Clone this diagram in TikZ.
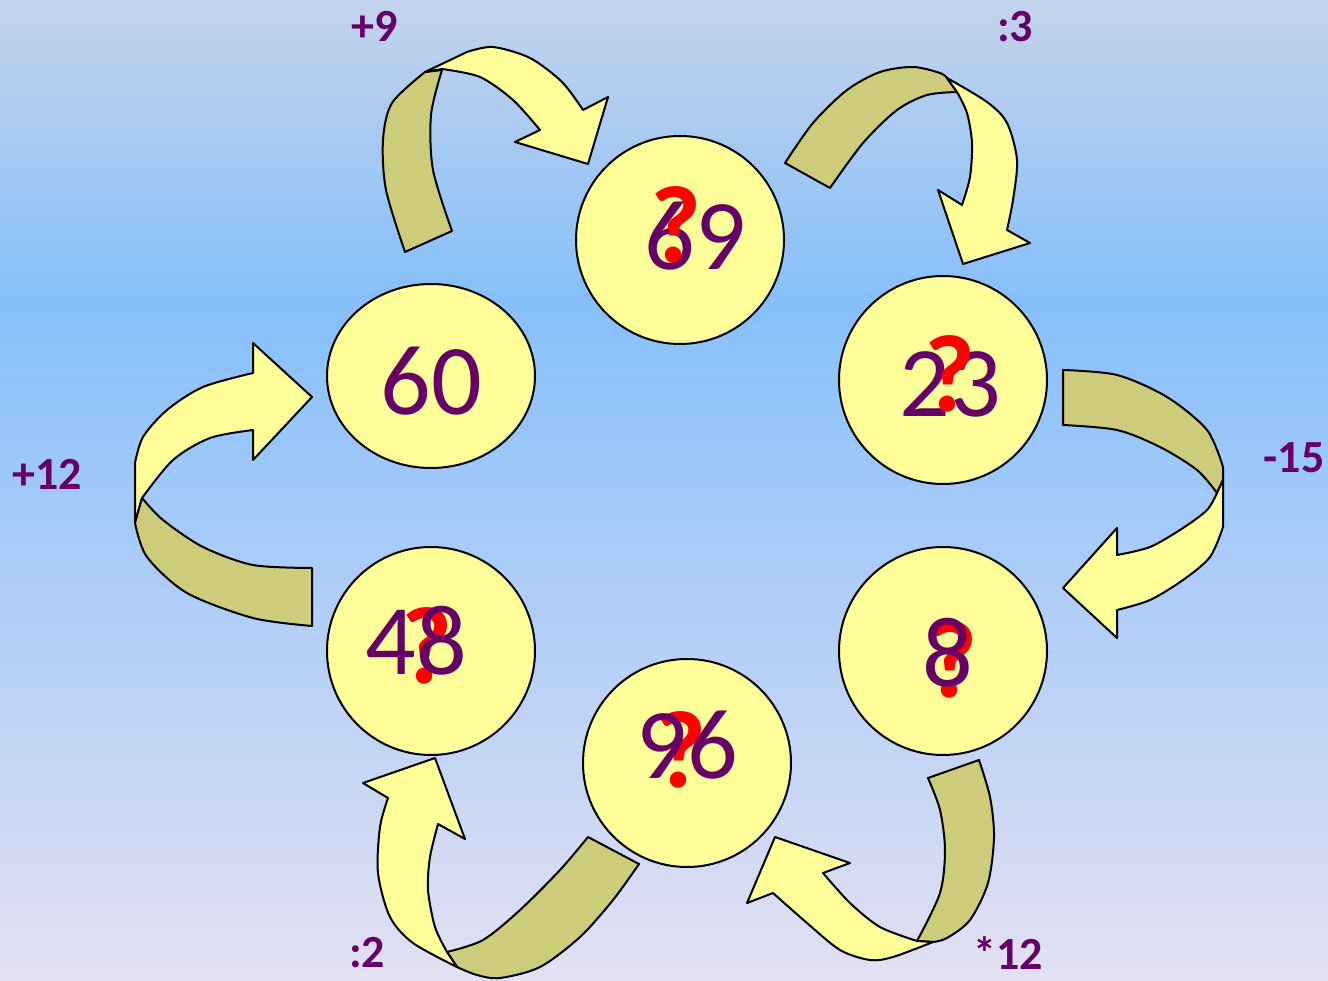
\documentclass[tikz,border=0pt]{standalone}
\usepackage{fontspec}
\setmainfont{Carlito}
\usetikzlibrary{shapes.geometric}
\definecolor{bgtop}{HTML}{C4D3EA}
\definecolor{bgmid}{HTML}{86BFFB}
\definecolor{bgbot}{HTML}{E3E0F2}
\definecolor{ball}{HTML}{FFFF99}
\definecolor{back}{HTML}{CCCC7A}
\definecolor{numc}{HTML}{660066}
\tikzset{
  ballnode/.style={draw=black, line width=2pt, fill=ball, circle, minimum size=208pt, inner sep=0pt},
  ovalnode/.style={draw=black, line width=2pt, fill=ball, ellipse, minimum width=208pt, minimum height=184pt, inner sep=0pt},
  front/.style={fill=ball, draw=black, line width=2pt, line join=round},
  rear/.style={fill=back, draw=black, line width=2pt, line join=round},
  num/.style={text=numc, inner sep=0pt, font=\fontsize{100}{100}\selectfont},
  qmark/.style={text=red, inner sep=0pt, font=\fontsize{110}{110}\selectfont\bfseries},
  oplabel/.style={text=numc, inner sep=0pt, font=\fontsize{46}{46}\selectfont\bfseries}
}
\begin{document}
\begin{tikzpicture}[x=1pt,y=-1pt]
\useasboundingbox (0,0) rectangle (1328,981);
\shade[top color=bgtop, bottom color=bgmid] (0,0) rectangle (1328,300);
\shade[top color=bgmid, bottom color=bgbot] (0,299.5) rectangle (1328,981);

% arrow +9
\path[rear] plot[smooth] coordinates {(405,252) (386,190) (383,140) (392,103) (425,72)}
  -- (442,70) -- plot[smooth] coordinates {(442,70) (431,115) (433,170) (452,231)} -- cycle;
\path[front] (425,72) -- (467,52) -- plot[smooth] coordinates {(467,52) (493,47) (530,58) (562,82) (583,110)}
  -- (608,97) -- (588,164) -- (515,142) -- (540,130)
  -- plot[smooth] coordinates {(540,130) (513,100) (480,77) (442,69)} -- cycle;

% arrow :3
\path[rear] plot[smooth] coordinates {(785,163) (813,123) (847,90) (880,72) (913,67) (940,73) (947,78)}
  -- (957,92) -- plot[smooth] coordinates {(957,92) (927,95) (897,110) (863,143) (830,188)} -- cycle;
\path[front] plot[smooth] coordinates {(947,78) (987,102) (1007,123) (1017,160) (1013,200) (1007,230)}
  -- (1030,243) -- (963,264) -- (938,190) -- (962,205)
  -- plot[smooth] coordinates {(962,205) (970,177) (972,143) (967,113) (957,92)} -- cycle;

% arrow -15
\path[rear] plot[smooth] coordinates {(1063,370) (1117,375) (1167,397) (1207,430) (1223,467)}
  -- (1223,480) -- (1217,493) -- plot[smooth] coordinates {(1217,493) (1197,470) (1160,447) (1117,430) (1063,425)} -- cycle;
\path[front] (1217,493) -- (1223,480) -- (1223,527)
  -- plot[smooth] coordinates {(1223,527) (1210,557) (1183,580) (1150,600) (1117,610)}
  -- (1117,638) -- (1063,588) -- (1117,528) -- (1117,555)
  -- plot[smooth] coordinates {(1117,555) (1150,547) (1183,528) (1207,510) (1217,493)} -- cycle;

% arrow *12
\path[rear] (928,778) -- (979,760)
  -- plot[smooth] coordinates {(979,760) (990,797) (994,837) (988,883) (970,920) (947,938) (933,942)}
  -- (917,941) -- plot[smooth] coordinates {(917,941) (940,893) (945,850) (940,810) (928,778)} -- cycle;
\path[front] plot[smooth] coordinates {(933,942) (893,957) (870,960) (840,950) (807,923) (773,893)}
  -- (747,903) -- (775,837) -- (850,863) -- (823,873)
  -- plot[smooth] coordinates {(823,873) (850,903) (880,927) (917,941)} -- cycle;

% arrow :2
\path[rear] (588,837) -- (639,864)
  -- plot[smooth] coordinates {(639,864) (613,900) (580,937) (540,967) (500,978) (477,975) (457,967)}
  -- (447,952) -- plot[smooth] coordinates {(447,952) (483,940) (520,910) (560,870) (588,837)} -- cycle;
\path[front] plot[smooth] coordinates {(457,967) (413,943) (390,917) (378,873) (380,827) (388,798)}
  -- (363,783) -- (435,758) -- (465,839) -- (438,824)
  -- plot[smooth] coordinates {(438,824) (430,857) (428,890) (435,927) (447,952)} -- cycle;

% arrow +12
\path[front] (142,498) -- (135,523) -- (135,463)
  -- plot[smooth] coordinates {(135,463) (143,437) (167,410) (203,387) (253,373)}
  -- (253,343) -- (312,397) -- (253,460) -- (253,430)
  -- plot[smooth] coordinates {(253,430) (210,438) (173,460) (142,498)} -- cycle;
\path[rear] plot[smooth] coordinates {(135,523) (147,557) (187,593) (253,618) (312,626)}
  -- (312,568) -- plot[smooth] coordinates {(312,568) (253,565) (203,547) (163,520) (142,498)} -- cycle;

% balls
\node[ballnode] (c1) at (680,240) {};
\node[ballnode] (c2) at (943,380) {};
\node[ballnode] (c3) at (943,651) {};
\node[ballnode] (c4) at (687,763) {};
\node[ballnode] (c5) at (431,651) {};
\node[ovalnode] (c6) at (431,376) {};

% numbers
\node[num] (n1) at (695,236) {69};
\node[qmark] (q1) at (676,225) {?};
\node[num] (n2) at (950,384) {23};
\node[qmark] (q2) at (950,374) {?};
\node[qmark] (q3) at (952,660) {?};
\node[num] (n3) at (948,653) {8};
\node[qmark] (q4) at (681,750) {?};
\node[num] (n4) at (687,745) {96};
\node[qmark] (q5) at (427,646) {?};
\node[num] (n5) at (416,641) {48};
\node[num] (n6) at (431,381) {60};

% labels
\node[oplabel] (l1) at (375,26) {+9};
\node[oplabel] (l2) at (1015,27) {:3};
\node[oplabel] (l3) at (1294,458) {-15};
\node[oplabel] (l4) at (1008,953) {*12};
\node[oplabel] (l5) at (367,953) {:2};
\node[oplabel] (l6) at (47,474) {+12};
\end{tikzpicture}
\end{document}
